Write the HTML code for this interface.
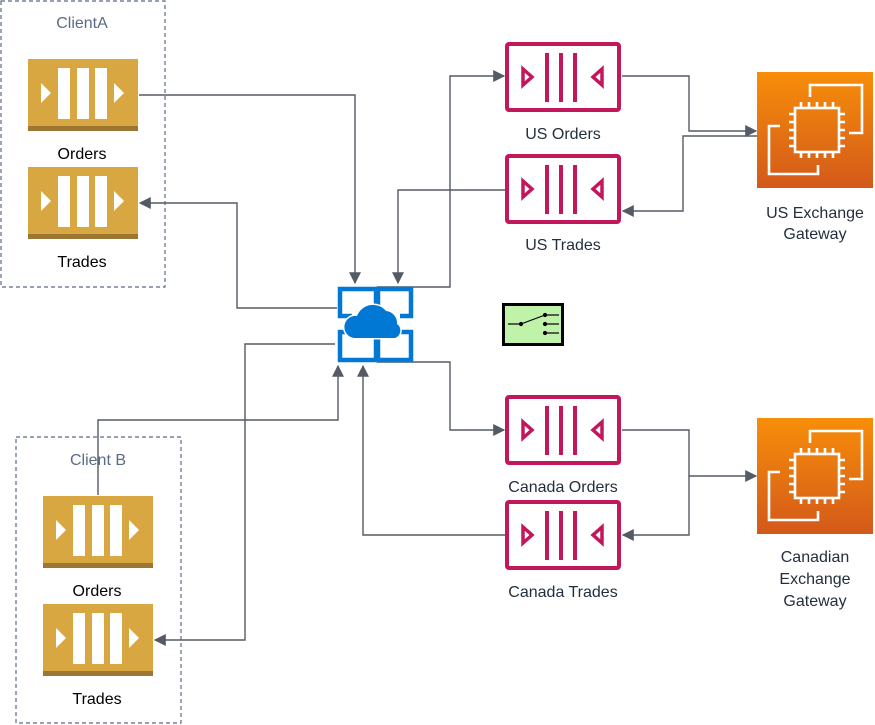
<!DOCTYPE html>
<html><head><meta charset="utf-8"><style>
html,body{margin:0;padding:0;background:#fff;}
svg{display:block;}
text{font-family:"Liberation Sans",Arial,sans-serif;}
</style></head><body>
<svg width="875" height="725" viewBox="0 0 875 725" xmlns="http://www.w3.org/2000/svg">
<defs>
<marker id="ar" viewBox="0 0 10 10" refX="9" refY="5" markerWidth="12" markerHeight="12" markerUnits="userSpaceOnUse" orient="auto">
<path d="M0,0 L10,5 L0,10 Z" fill="#545B64"/>
</marker>
<linearGradient id="og" x1="0" y1="0" x2="0" y2="1">
<stop offset="0" stop-color="#F78E0A"/><stop offset="1" stop-color="#D3591A"/>
</linearGradient>
<g id="yq">
<rect x="0" y="0" width="110" height="72" fill="#D9A741"/>
<rect x="0" y="67" width="110" height="5" fill="#9C7633"/>
<rect x="30" y="9" width="12" height="51" fill="#fff"/>
<rect x="49" y="9" width="12" height="51" fill="#fff"/>
<rect x="67" y="9" width="12" height="51" fill="#fff"/>
<path d="M13,24 L23,34 L13,44 Z" fill="#fff"/>
<path d="M86,24 L96,34 L86,44 Z" fill="#fff"/>
</g>
<g id="pq">
<rect x="2" y="2" width="112" height="66" fill="#fff" stroke="#C2185B" stroke-width="4" rx="2"/>
<rect x="40" y="11" width="4" height="49" fill="#C2185B"/>
<rect x="54" y="11" width="4" height="49" fill="#C2185B"/>
<rect x="68" y="11" width="4" height="49" fill="#C2185B"/>
<path d="M18,27 L27,35 L18,43 Z" fill="none" stroke="#C2185B" stroke-width="3.5"/>
<path d="M97,27 L88,35 L97,43 Z" fill="none" stroke="#C2185B" stroke-width="3.5"/>
</g>
<g id="ec2">
<rect x="0" y="0" width="116" height="116" fill="url(#og)"/>
<g fill="none" stroke="#fff" stroke-width="2.6">
<path d="M53,25 V13 H105 V61 H92"/>
<path d="M23,54 H12 V102 H61 V93"/>
<rect x="38" y="36" width="44" height="44"/>
<path d="M44,36v-6M52,36v-6M60,36v-6M68,36v-6M76,36v-6 M44,80v6M52,80v6M60,80v6M68,80v6M76,80v6 M38,42h-6M38,50h-6M38,58h-6M38,66h-6M38,74h-6 M82,42h6M82,50h6M82,58h6M82,66h6M82,74h6"/>
</g>
</g>
</defs>

<rect x="1" y="1" width="164" height="286" fill="none" stroke="#5A6B86" stroke-width="1.2" stroke-dasharray="4,3"/>
<text x="82" y="28" font-size="16" fill="#5A6B86" text-anchor="middle">ClientA</text>
<rect x="16" y="437" width="165" height="286" fill="none" stroke="#5A6B86" stroke-width="1.2" stroke-dasharray="4,3"/>
<text x="98" y="465" font-size="16" fill="#5A6B86" text-anchor="middle">Client B</text>

<use href="#yq" x="28" y="59"/>
<text x="82" y="159" font-size="16" fill="#000" text-anchor="middle">Orders</text>
<use href="#yq" x="28" y="167"/>
<text x="82" y="267" font-size="16" fill="#000" text-anchor="middle">Trades</text>
<use href="#yq" x="43" y="496"/>
<text x="97" y="596" font-size="16" fill="#000" text-anchor="middle">Orders</text>
<use href="#yq" x="43" y="604"/>
<text x="97" y="704" font-size="16" fill="#000" text-anchor="middle">Trades</text>

<g fill="none" stroke="#545B64" stroke-width="1.4">
<path d="M139,95 H355 V283" marker-end="url(#ar)"/>
<path d="M505,190 H398 V283" marker-end="url(#ar)"/>
<path d="M337,308 H237 V203 H140" marker-end="url(#ar)"/>
<path d="M335,344 H245 V640 H155" marker-end="url(#ar)"/>
<path d="M98,495 V420 H338 V366" marker-end="url(#ar)"/>
<path d="M505,535 H363 V366" marker-end="url(#ar)"/>
<path d="M377,287 H450 V76 H504" marker-end="url(#ar)"/>
<path d="M377,362 H450 V430 H504" marker-end="url(#ar)"/>
<path d="M622,76 H689 V131 H756" marker-end="url(#ar)"/>
<path d="M757,136 H683 V211 H623" marker-end="url(#ar)"/>
<path d="M622,430 H689 V476 H756" marker-end="url(#ar)"/>
<path d="M689,476 V535 H623" marker-end="url(#ar)"/>
</g>

<g fill="none" stroke="#0078D4" stroke-width="4.5">
<path d="M376,316 V289 H340 V316 H352"/>
<path d="M378,316 V289 H411 V316 H400"/>
<path d="M352,332 H340 V360 H376 V334"/>
<path d="M400,332 H411 V360 H378 V334"/>
</g>
<path d="M354,338 a11,11 0 0 1 3,-22 a17,17 0 0 1 29,-5 a12,12 0 0 1 11,13 a8,8 0 0 1 -2,14 Z" fill="#0078D4" stroke="#fff" stroke-width="3"/>
<path d="M354,338 a11,11 0 0 1 3,-22 a17,17 0 0 1 29,-5 a12,12 0 0 1 11,13 a8,8 0 0 1 -2,14 Z" fill="#0078D4"/>

<use href="#pq" x="505" y="42"/>
<text x="563" y="139" font-size="16" fill="#232F3E" text-anchor="middle">US Orders</text>
<use href="#pq" x="505" y="154"/>
<text x="563" y="250" font-size="16" fill="#232F3E" text-anchor="middle">US Trades</text>
<use href="#pq" x="505" y="395"/>
<text x="563" y="492" font-size="16" fill="#232F3E" text-anchor="middle">Canada Orders</text>
<use href="#pq" x="505" y="500"/>
<text x="563" y="597" font-size="16" fill="#232F3E" text-anchor="middle">Canada Trades</text>

<use href="#ec2" x="757" y="72"/>
<text x="815" y="218" font-size="16" fill="#232F3E" text-anchor="middle">US Exchange</text>
<text x="815" y="239" font-size="16" fill="#232F3E" text-anchor="middle">Gateway</text>
<use href="#ec2" x="757" y="418"/>
<text x="815" y="562" font-size="16" fill="#232F3E" text-anchor="middle">Canadian</text>
<text x="815" y="584" font-size="16" fill="#232F3E" text-anchor="middle">Exchange</text>
<text x="815" y="606" font-size="16" fill="#232F3E" text-anchor="middle">Gateway</text>

<rect x="503.5" y="304.5" width="59" height="40" fill="#C0F2A9" stroke="#000" stroke-width="3"/>
<g stroke="#000" stroke-width="1.2" fill="#000">
<line x1="508" y1="324" x2="521" y2="324"/>
<line x1="521" y1="324" x2="545" y2="315"/>
<line x1="545" y1="315" x2="559" y2="315"/>
<line x1="545" y1="324" x2="559" y2="324"/>
<line x1="545" y1="333" x2="559" y2="333"/>
<circle cx="521" cy="324" r="1.5"/>
<circle cx="545" cy="315" r="1.5"/>
<circle cx="545" cy="324" r="1.5"/>
<circle cx="545" cy="333" r="1.5"/>
</g>
</svg>
</body></html>
